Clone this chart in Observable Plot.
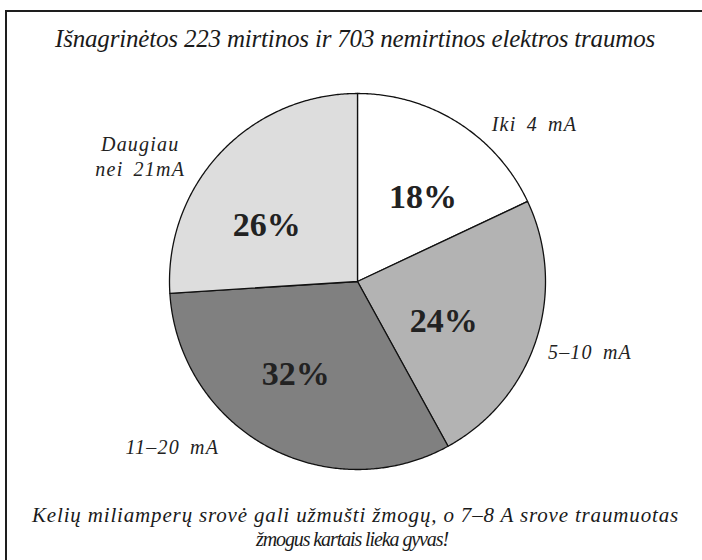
<!DOCTYPE html>
<html>
<head>
<meta charset="utf-8">
<script src="https://cdn.jsdelivr.net/npm/d3@7"></script>
<script src="https://cdn.jsdelivr.net/npm/@observablehq/plot@0.6"></script>
<style>
  html, body { margin: 0; padding: 0; background: #fff; width: 702px; height: 560px; overflow: hidden; }
  #frame { position: absolute; left: 5px; top: 10px; width: 800px; height: 800px; border: 2px solid #1e1e1e; box-sizing: border-box; }
  .txt { position: absolute; left: 0; width: 710px; text-align: center; font-family: "Liberation Serif", "Times New Roman", Times, serif; font-style: italic; color: #1a1a1a; white-space: nowrap; }
  #title { top: 26px; font-size: 25px; line-height: 25px; }
  #cap1 { top: 503px; left: 32px; width: auto; text-align: left; font-size: 21px; line-height: 24px; }
  #cap2 { top: 527px; left: 0; width: 704px; font-size: 20px; line-height: 24px; }
  #chart { position: absolute; left: 0; top: 62px; }
  #chart g[font-style="italic"] { letter-spacing: 1.2px; word-spacing: 4px; }
</style>
</head>
<body>
<div id="frame"></div>
<div id="title" class="txt"><span id="t1">Išnagrinėtos 223 mirtinos ir 703 nemirtinos elektros traumos</span></div>
<div id="chart"></div>
<div id="cap1" class="txt"><span id="c1">Kelių miliamperų srovė gali užmušti žmogų, o 7–8 A srove traumuotas</span></div>
<div id="cap2" class="txt"><span id="c2">žmogus kartais lieka gyvas!</span></div>
<script>
// ---- data ----
const categories = ["Iki 4 mA", "5–10 mA", "11–20 mA", "Daugiau nei 21mA"];
const labelTexts = ["Iki 4 mA", "5–10 mA", "11–20 mA", "Daugiau\nnei 21mA"];
const percents = [18, 24, 32, 26];
const fills = ["#ffffff", "#b3b3b3", "#808080", "#dddddd"];

// ---- layout ----
const W = 702, H = 428, R = 188, CX = 357, CY = 219;

const arcs = d3.pie().sort(null).value(d => d)(percents);
const slices = arcs.map((a, i) => ({
  cat: categories[i], label: labelTexts[i], pct: percents[i] + "%",
  start: a.startAngle, end: a.endAngle, mid: (a.startAngle + a.endAngle) / 2
}));

// polygon outline of each slice (center -> arc -> center), in unit coordinates
const pts = [];
for (const s of slices) {
  pts.push({cat: s.cat, a: null});
  const n = Math.ceil((s.end - s.start) / (Math.PI / 360));
  for (let k = 0; k <= n; k++) pts.push({cat: s.cat, a: s.start + (s.end - s.start) * k / n});
  pts.push({cat: s.cat, a: null});
}
const px = d => d.a === null ? 0 : Math.sin(d.a);
const py = d => d.a === null ? 0 : Math.cos(d.a);

const serif = "'Liberation Serif', 'Times New Roman', Times, serif";
const inner = 0.56, outer = 1.25;
const pctOffsets = [[9, 5], [-14, 7], [-11, 0], [-14, 16]];
const outOffsets = [[51, 40], [9, -3], [-72, -41], [-46, 35]];

const marks = [
  Plot.line(pts, {x: px, y: py, z: "cat", fill: "cat", stroke: "#111", strokeWidth: 1.3, strokeLinejoin: "round"})
];
slices.forEach((s, i) => {
  marks.push(Plot.text([s], {
    x: d => inner * Math.sin(d.mid), y: d => inner * Math.cos(d.mid), text: "pct",
    dx: pctOffsets[i][0], dy: pctOffsets[i][1],
    fontFamily: serif, fontWeight: "bold", fontSize: 34, fill: "#222"
  }));
  marks.push(Plot.text([s], {
    x: d => outer * Math.sin(d.mid), y: d => outer * Math.cos(d.mid), text: "label",
    dx: outOffsets[i][0], dy: outOffsets[i][1],
    fontFamily: serif, fontStyle: "italic", fontSize: 20, lineHeight: 1.25, fill: "#222"
  }));
});

const chart = Plot.plot({
  width: W, height: H, margin: 0,
  x: {domain: [-CX / R, (W - CX) / R], axis: null},
  y: {domain: [-(H - CY) / R, CY / R], axis: null},
  color: {domain: categories, range: fills},
  style: {background: "transparent", overflow: "visible"},
  marks
});
document.getElementById("chart").appendChild(chart);

// fit text widths to reference
function fit(id, target) {
  const el = document.getElementById(id);
  const w = el.getBoundingClientRect().width;
  const n = el.textContent.length;
  el.style.letterSpacing = ((target - w) / n) + "px";
}
fit("t1", 600);
fit("c1", 647);
fit("c2", 192);
</script>
</body>
</html>
